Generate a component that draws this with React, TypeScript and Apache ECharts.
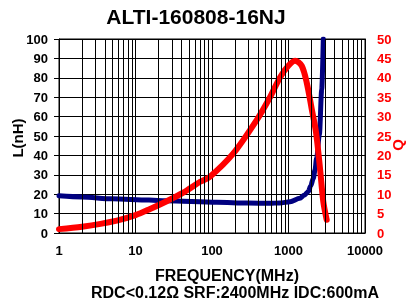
import React, { useEffect, useRef } from 'react';
import * as echarts from 'echarts';

const titleText = 'ALTI-160808-16NJ';
const xAxisTitle = 'FREQUENCY(MHz)';
const specText = 'RDC<0.12Ω SRF:2400MHz IDC:600mA';
const leftAxisTitle = 'L(nH)';
const rightAxisTitle = 'Q';

// Inductance curve L(nH) vs frequency (MHz)
const freqL = [1, 2, 5, 15, 25, 115, 300, 570, 770, 1050, 1410, 1600, 1810, 1950, 2110, 2220, 2330, 2530, 2720, 2850];
const inductance = [19.2, 18.6, 17.6, 17.0, 16.6, 15.8, 15.4, 15.3, 15.5, 16.1, 17.9, 19.4, 21.3, 24.2, 28.2, 32.5, 38.5, 50.5, 74, 100];

// Q curve vs frequency (MHz)
const freqQ = [1, 2, 5.7, 10, 15.5, 25.6, 42, 70, 94, 190, 384, 573, 774, 995, 1216, 1487, 1729, 2010, 2288, 2580, 2850, 3157];
const qValues = [1.0, 1.6, 3.2, 4.6, 6.2, 8.2, 10.4, 13.2, 14.5, 20.5, 29.1, 35.0, 40.1, 43.1, 44.4, 43.1, 38.8, 32.0, 26.0, 16.7, 8.1, 3.4];

// Minor log grid lines
const minorFreqs = [2, 3, 4, 5, 6, 7, 8, 9, 20, 30, 40, 50, 60, 70, 80, 90, 200, 300, 400, 500, 600, 700, 800, 900, 2000, 3000, 4000, 5000, 6000, 7000, 8000, 9000];

const FONT = "'Liberation Sans', Arial, sans-serif";

const txt = (text: string, x: number, y: number, size: number, fill: string, rotation = 0) => ({
  type: 'text', x, y, rotation,
  style: { text, fill, fontFamily: FONT, fontWeight: 'bold', fontSize: size, align: 'center', verticalAlign: 'middle' },
});

export default function App() {
  const ref = useRef<HTMLDivElement>(null);
  useEffect(() => {
    const chart = echarts.init(ref.current!, null, { renderer: 'svg' });
    chart.setOption({
      animation: false,
      textStyle: { fontFamily: FONT },
      grid: { left: 59, right: 41, top: 39, bottom: 71, show: true, borderColor: '#000', borderWidth: 1, backgroundColor: 'transparent' },
      xAxis: {
        type: 'log', logBase: 10, min: 1, max: 10000,
        axisLine: { show: true, lineStyle: { color: '#000', width: 1 } },
        axisTick: { show: false },
        axisLabel: { color: '#000', fontSize: 13, fontWeight: 'bold', fontFamily: FONT, margin: 11, formatter: (v: number) => String(Math.round(v)) },
        splitLine: { show: true, lineStyle: { color: '#000', width: 1 } },
      },
      yAxis: [
        {
          type: 'value', min: 0, max: 100, interval: 10, position: 'left',
          axisLine: { show: true, lineStyle: { color: '#000' } },
          axisTick: { show: true, inside: false, length: 5, lineStyle: { color: '#000' } },
          axisLabel: { color: '#000', fontSize: 13, fontWeight: 'bold', fontFamily: FONT, margin: 11 },
          splitLine: { show: true, lineStyle: { color: '#000', width: 1 } },
        },
        {
          type: 'value', min: 0, max: 50, interval: 5, position: 'right',
          axisLine: { show: true, lineStyle: { color: '#000' } },
          axisTick: { show: false },
          axisLabel: { color: '#ff0000', fontSize: 13, fontWeight: 'bold', fontFamily: FONT, margin: 12 },
          splitLine: { show: false },
        },
      ],
      graphic: [
        txt(titleText, 196, 16, 21, '#000'),
        txt(xAxisTitle, 227, 275, 16, '#000'),
        txt(specText, 235, 292, 16, '#000'),
        txt(leftAxisTitle, 17, 138, 15, '#000', Math.PI / 2),
        txt(rightAxisTitle, 397, 145, 15, '#ff0000', Math.PI / 2),
      ],
      series: [
        {
          type: 'line', xAxisIndex: 0, yAxisIndex: 0, data: [], z: 1, silent: true,
          markLine: {
            silent: true, symbol: ['none', 'none'], label: { show: false },
            lineStyle: { type: 'solid', color: '#000', width: 1, opacity: 1 },
            emphasis: { disabled: true },
            data: minorFreqs.map((f) => ({ xAxis: f })),
          },
        },
        {
          name: 'L', type: 'line', xAxisIndex: 0, yAxisIndex: 0, z: 3,
          data: freqL.map((f, i) => [f, inductance[i]]),
          showSymbol: false, smooth: 0.3, smoothMonotone: 'x',
          lineStyle: { color: '#000080', width: 5, cap: 'round', join: 'round' },
        },
        {
          name: 'Q', type: 'line', xAxisIndex: 0, yAxisIndex: 1, z: 4,
          data: freqQ.map((f, i) => [f, qValues[i]]),
          showSymbol: false, smooth: 0.3,
          lineStyle: { color: '#ff0000', width: 6, cap: 'round', join: 'round' },
        },
      ],
    });
    return () => chart.dispose();
  }, []);
  return <div ref={ref} style={{ position: 'fixed', left: 0, top: 0, width: 406, height: 304 }} />;
}
